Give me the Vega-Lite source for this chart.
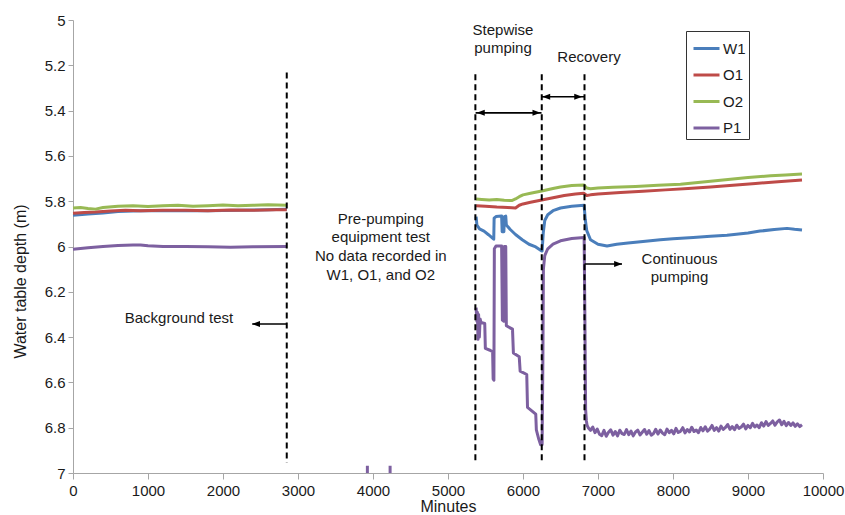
{
  "$schema": "https://vega.github.io/schema/vega-lite/v6.json",
  "width": 750,
  "height": 453,
  "autosize": {"type": "none"},
  "padding": {"left": 73, "top": 20, "right": 22, "bottom": 42},
  "background": "white",
  "config": {
    "font": "Liberation Sans",
    "view": {"stroke": null},
    "axis": {
      "grid": false,
      "domainColor": "#a6a6a6",
      "tickColor": "#a6a6a6",
      "labelFont": "Liberation Sans",
      "titleFont": "Liberation Sans",
      "labelFontSize": 15,
      "titleFontSize": 16,
      "titleFontWeight": "normal",
      "labelColor": "#1a1a1a",
      "titleColor": "#1a1a1a"
    }
  },
  "datasets": {
    "series": [
      {"well": "W1", "period": "bg", "minutes": 0, "depth": 5.862},
      {"well": "W1", "period": "bg", "minutes": 200, "depth": 5.857},
      {"well": "W1", "period": "bg", "minutes": 400, "depth": 5.852},
      {"well": "W1", "period": "bg", "minutes": 600, "depth": 5.846},
      {"well": "W1", "period": "bg", "minutes": 800, "depth": 5.843},
      {"well": "W1", "period": "bg", "minutes": 1000, "depth": 5.842},
      {"well": "W1", "period": "bg", "minutes": 1400, "depth": 5.842},
      {"well": "W1", "period": "bg", "minutes": 1800, "depth": 5.842},
      {"well": "W1", "period": "bg", "minutes": 2200, "depth": 5.84},
      {"well": "W1", "period": "bg", "minutes": 2600, "depth": 5.838},
      {"well": "W1", "period": "bg", "minutes": 2850, "depth": 5.836},
      {"well": "W1", "period": "pump", "minutes": 5375, "depth": 5.868},
      {"well": "W1", "period": "pump", "minutes": 5385, "depth": 5.905},
      {"well": "W1", "period": "pump", "minutes": 5420, "depth": 5.922},
      {"well": "W1", "period": "pump", "minutes": 5480, "depth": 5.932},
      {"well": "W1", "period": "pump", "minutes": 5540, "depth": 5.948},
      {"well": "W1", "period": "pump", "minutes": 5590, "depth": 5.962},
      {"well": "W1", "period": "pump", "minutes": 5610, "depth": 5.968},
      {"well": "W1", "period": "pump", "minutes": 5615, "depth": 5.875},
      {"well": "W1", "period": "pump", "minutes": 5640, "depth": 5.868},
      {"well": "W1", "period": "pump", "minutes": 5715, "depth": 5.865},
      {"well": "W1", "period": "pump", "minutes": 5722, "depth": 5.935},
      {"well": "W1", "period": "pump", "minutes": 5745, "depth": 5.935},
      {"well": "W1", "period": "pump", "minutes": 5752, "depth": 5.868},
      {"well": "W1", "period": "pump", "minutes": 5770, "depth": 5.866},
      {"well": "W1", "period": "pump", "minutes": 5778, "depth": 5.905},
      {"well": "W1", "period": "pump", "minutes": 5830, "depth": 5.925},
      {"well": "W1", "period": "pump", "minutes": 5900, "depth": 5.947},
      {"well": "W1", "period": "pump", "minutes": 5990, "depth": 5.97},
      {"well": "W1", "period": "pump", "minutes": 6080, "depth": 5.99},
      {"well": "W1", "period": "pump", "minutes": 6170, "depth": 6.002},
      {"well": "W1", "period": "pump", "minutes": 6240, "depth": 6.018},
      {"well": "W1", "period": "pump", "minutes": 6255, "depth": 6.02},
      {"well": "W1", "period": "pump", "minutes": 6270, "depth": 5.94},
      {"well": "W1", "period": "pump", "minutes": 6290, "depth": 5.885},
      {"well": "W1", "period": "pump", "minutes": 6330, "depth": 5.86},
      {"well": "W1", "period": "pump", "minutes": 6400, "depth": 5.842},
      {"well": "W1", "period": "pump", "minutes": 6500, "depth": 5.83},
      {"well": "W1", "period": "pump", "minutes": 6650, "depth": 5.822},
      {"well": "W1", "period": "pump", "minutes": 6815, "depth": 5.818},
      {"well": "W1", "period": "pump", "minutes": 6830, "depth": 5.88},
      {"well": "W1", "period": "pump", "minutes": 6850, "depth": 5.93},
      {"well": "W1", "period": "pump", "minutes": 6900, "depth": 5.97},
      {"well": "W1", "period": "pump", "minutes": 7000, "depth": 5.99},
      {"well": "W1", "period": "pump", "minutes": 7120, "depth": 5.998},
      {"well": "W1", "period": "pump", "minutes": 7250, "depth": 5.99},
      {"well": "W1", "period": "pump", "minutes": 7400, "depth": 5.985},
      {"well": "W1", "period": "pump", "minutes": 7600, "depth": 5.978},
      {"well": "W1", "period": "pump", "minutes": 7830, "depth": 5.97},
      {"well": "W1", "period": "pump", "minutes": 8000, "depth": 5.966},
      {"well": "W1", "period": "pump", "minutes": 8270, "depth": 5.96},
      {"well": "W1", "period": "pump", "minutes": 8500, "depth": 5.955},
      {"well": "W1", "period": "pump", "minutes": 8720, "depth": 5.95},
      {"well": "W1", "period": "pump", "minutes": 9000, "depth": 5.94},
      {"well": "W1", "period": "pump", "minutes": 9160, "depth": 5.932},
      {"well": "W1", "period": "pump", "minutes": 9350, "depth": 5.925},
      {"well": "W1", "period": "pump", "minutes": 9520, "depth": 5.92},
      {"well": "W1", "period": "pump", "minutes": 9620, "depth": 5.924},
      {"well": "W1", "period": "pump", "minutes": 9720, "depth": 5.927},

      {"well": "O1", "period": "bg", "minutes": 0, "depth": 5.853},
      {"well": "O1", "period": "bg", "minutes": 150, "depth": 5.85},
      {"well": "O1", "period": "bg", "minutes": 300, "depth": 5.848},
      {"well": "O1", "period": "bg", "minutes": 500, "depth": 5.843},
      {"well": "O1", "period": "bg", "minutes": 700, "depth": 5.84},
      {"well": "O1", "period": "bg", "minutes": 900, "depth": 5.842},
      {"well": "O1", "period": "bg", "minutes": 1200, "depth": 5.84},
      {"well": "O1", "period": "bg", "minutes": 1500, "depth": 5.84},
      {"well": "O1", "period": "bg", "minutes": 1800, "depth": 5.842},
      {"well": "O1", "period": "bg", "minutes": 2100, "depth": 5.839},
      {"well": "O1", "period": "bg", "minutes": 2400, "depth": 5.84},
      {"well": "O1", "period": "bg", "minutes": 2700, "depth": 5.838},
      {"well": "O1", "period": "bg", "minutes": 2850, "depth": 5.838},
      {"well": "O1", "period": "pump", "minutes": 5375, "depth": 5.82},
      {"well": "O1", "period": "pump", "minutes": 5500, "depth": 5.822},
      {"well": "O1", "period": "pump", "minutes": 5650, "depth": 5.826},
      {"well": "O1", "period": "pump", "minutes": 5800, "depth": 5.828},
      {"well": "O1", "period": "pump", "minutes": 5900, "depth": 5.83},
      {"well": "O1", "period": "pump", "minutes": 5950, "depth": 5.818},
      {"well": "O1", "period": "pump", "minutes": 6000, "depth": 5.812},
      {"well": "O1", "period": "pump", "minutes": 6100, "depth": 5.805},
      {"well": "O1", "period": "pump", "minutes": 6250, "depth": 5.795},
      {"well": "O1", "period": "pump", "minutes": 6400, "depth": 5.785},
      {"well": "O1", "period": "pump", "minutes": 6550, "depth": 5.775},
      {"well": "O1", "period": "pump", "minutes": 6700, "depth": 5.768},
      {"well": "O1", "period": "pump", "minutes": 6810, "depth": 5.765},
      {"well": "O1", "period": "pump", "minutes": 6850, "depth": 5.775},
      {"well": "O1", "period": "pump", "minutes": 6900, "depth": 5.772},
      {"well": "O1", "period": "pump", "minutes": 7000, "depth": 5.768},
      {"well": "O1", "period": "pump", "minutes": 7300, "depth": 5.762},
      {"well": "O1", "period": "pump", "minutes": 7600, "depth": 5.756},
      {"well": "O1", "period": "pump", "minutes": 7900, "depth": 5.75},
      {"well": "O1", "period": "pump", "minutes": 8200, "depth": 5.744},
      {"well": "O1", "period": "pump", "minutes": 8500, "depth": 5.737},
      {"well": "O1", "period": "pump", "minutes": 8800, "depth": 5.73},
      {"well": "O1", "period": "pump", "minutes": 9100, "depth": 5.722},
      {"well": "O1", "period": "pump", "minutes": 9400, "depth": 5.714},
      {"well": "O1", "period": "pump", "minutes": 9720, "depth": 5.706},

      {"well": "O2", "period": "bg", "minutes": 0, "depth": 5.83},
      {"well": "O2", "period": "bg", "minutes": 100, "depth": 5.828},
      {"well": "O2", "period": "bg", "minutes": 200, "depth": 5.832},
      {"well": "O2", "period": "bg", "minutes": 300, "depth": 5.835},
      {"well": "O2", "period": "bg", "minutes": 400, "depth": 5.828},
      {"well": "O2", "period": "bg", "minutes": 600, "depth": 5.822},
      {"well": "O2", "period": "bg", "minutes": 800, "depth": 5.82},
      {"well": "O2", "period": "bg", "minutes": 1000, "depth": 5.823},
      {"well": "O2", "period": "bg", "minutes": 1200, "depth": 5.82},
      {"well": "O2", "period": "bg", "minutes": 1400, "depth": 5.818},
      {"well": "O2", "period": "bg", "minutes": 1600, "depth": 5.822},
      {"well": "O2", "period": "bg", "minutes": 1800, "depth": 5.82},
      {"well": "O2", "period": "bg", "minutes": 2000, "depth": 5.817},
      {"well": "O2", "period": "bg", "minutes": 2200, "depth": 5.82},
      {"well": "O2", "period": "bg", "minutes": 2400, "depth": 5.818},
      {"well": "O2", "period": "bg", "minutes": 2600, "depth": 5.816},
      {"well": "O2", "period": "bg", "minutes": 2850, "depth": 5.818},
      {"well": "O2", "period": "pump", "minutes": 5375, "depth": 5.79},
      {"well": "O2", "period": "pump", "minutes": 5450, "depth": 5.792},
      {"well": "O2", "period": "pump", "minutes": 5550, "depth": 5.795},
      {"well": "O2", "period": "pump", "minutes": 5650, "depth": 5.793},
      {"well": "O2", "period": "pump", "minutes": 5750, "depth": 5.796},
      {"well": "O2", "period": "pump", "minutes": 5850, "depth": 5.797},
      {"well": "O2", "period": "pump", "minutes": 5900, "depth": 5.79},
      {"well": "O2", "period": "pump", "minutes": 5950, "depth": 5.78},
      {"well": "O2", "period": "pump", "minutes": 6000, "depth": 5.772},
      {"well": "O2", "period": "pump", "minutes": 6100, "depth": 5.765},
      {"well": "O2", "period": "pump", "minutes": 6250, "depth": 5.755},
      {"well": "O2", "period": "pump", "minutes": 6400, "depth": 5.744},
      {"well": "O2", "period": "pump", "minutes": 6500, "depth": 5.737},
      {"well": "O2", "period": "pump", "minutes": 6650, "depth": 5.731},
      {"well": "O2", "period": "pump", "minutes": 6810, "depth": 5.728},
      {"well": "O2", "period": "pump", "minutes": 6850, "depth": 5.742},
      {"well": "O2", "period": "pump", "minutes": 6900, "depth": 5.745},
      {"well": "O2", "period": "pump", "minutes": 7000, "depth": 5.742},
      {"well": "O2", "period": "pump", "minutes": 7200, "depth": 5.738},
      {"well": "O2", "period": "pump", "minutes": 7500, "depth": 5.735},
      {"well": "O2", "period": "pump", "minutes": 7800, "depth": 5.73},
      {"well": "O2", "period": "pump", "minutes": 8100, "depth": 5.725},
      {"well": "O2", "period": "pump", "minutes": 8400, "depth": 5.715},
      {"well": "O2", "period": "pump", "minutes": 8700, "depth": 5.705},
      {"well": "O2", "period": "pump", "minutes": 9000, "depth": 5.695},
      {"well": "O2", "period": "pump", "minutes": 9300, "depth": 5.688},
      {"well": "O2", "period": "pump", "minutes": 9500, "depth": 5.684},
      {"well": "O2", "period": "pump", "minutes": 9720, "depth": 5.68},

      {"well": "P1", "period": "bg", "minutes": 0, "depth": 6.012},
      {"well": "P1", "period": "bg", "minutes": 200, "depth": 6.006},
      {"well": "P1", "period": "bg", "minutes": 400, "depth": 6.0},
      {"well": "P1", "period": "bg", "minutes": 600, "depth": 5.996},
      {"well": "P1", "period": "bg", "minutes": 800, "depth": 5.993},
      {"well": "P1", "period": "bg", "minutes": 900, "depth": 5.993},
      {"well": "P1", "period": "bg", "minutes": 1000, "depth": 5.997},
      {"well": "P1", "period": "bg", "minutes": 1200, "depth": 6.0},
      {"well": "P1", "period": "bg", "minutes": 1500, "depth": 6.0},
      {"well": "P1", "period": "bg", "minutes": 1800, "depth": 6.001},
      {"well": "P1", "period": "bg", "minutes": 2100, "depth": 6.003},
      {"well": "P1", "period": "bg", "minutes": 2400, "depth": 6.001},
      {"well": "P1", "period": "bg", "minutes": 2850, "depth": 6.0},
      {"well": "P1", "period": "pump", "minutes": 5375, "depth": 6.27},
      {"well": "P1", "period": "pump", "minutes": 5385, "depth": 6.33},
      {"well": "P1", "period": "pump", "minutes": 5392, "depth": 6.29},
      {"well": "P1", "period": "pump", "minutes": 5400, "depth": 6.41},
      {"well": "P1", "period": "pump", "minutes": 5408, "depth": 6.3},
      {"well": "P1", "period": "pump", "minutes": 5418, "depth": 6.4},
      {"well": "P1", "period": "pump", "minutes": 5428, "depth": 6.32},
      {"well": "P1", "period": "pump", "minutes": 5440, "depth": 6.335},
      {"well": "P1", "period": "pump", "minutes": 5490, "depth": 6.34},
      {"well": "P1", "period": "pump", "minutes": 5498, "depth": 6.45},
      {"well": "P1", "period": "pump", "minutes": 5560, "depth": 6.458},
      {"well": "P1", "period": "pump", "minutes": 5595, "depth": 6.465},
      {"well": "P1", "period": "pump", "minutes": 5602, "depth": 6.585},
      {"well": "P1", "period": "pump", "minutes": 5612, "depth": 6.59},
      {"well": "P1", "period": "pump", "minutes": 5618, "depth": 6.01},
      {"well": "P1", "period": "pump", "minutes": 5640, "depth": 5.998},
      {"well": "P1", "period": "pump", "minutes": 5715, "depth": 5.998},
      {"well": "P1", "period": "pump", "minutes": 5725, "depth": 6.325},
      {"well": "P1", "period": "pump", "minutes": 5745, "depth": 6.33},
      {"well": "P1", "period": "pump", "minutes": 5752, "depth": 6.0},
      {"well": "P1", "period": "pump", "minutes": 5770, "depth": 6.0},
      {"well": "P1", "period": "pump", "minutes": 5778, "depth": 6.35},
      {"well": "P1", "period": "pump", "minutes": 5860, "depth": 6.365},
      {"well": "P1", "period": "pump", "minutes": 5872, "depth": 6.47},
      {"well": "P1", "period": "pump", "minutes": 5950, "depth": 6.487},
      {"well": "P1", "period": "pump", "minutes": 5962, "depth": 6.55},
      {"well": "P1", "period": "pump", "minutes": 6050, "depth": 6.565},
      {"well": "P1", "period": "pump", "minutes": 6060, "depth": 6.71},
      {"well": "P1", "period": "pump", "minutes": 6170, "depth": 6.74},
      {"well": "P1", "period": "pump", "minutes": 6178, "depth": 6.81},
      {"well": "P1", "period": "pump", "minutes": 6210, "depth": 6.85},
      {"well": "P1", "period": "pump", "minutes": 6235, "depth": 6.875},
      {"well": "P1", "period": "pump", "minutes": 6255, "depth": 6.875},
      {"well": "P1", "period": "pump", "minutes": 6265, "depth": 6.5},
      {"well": "P1", "period": "pump", "minutes": 6272, "depth": 6.1},
      {"well": "P1", "period": "pump", "minutes": 6290, "depth": 6.04},
      {"well": "P1", "period": "pump", "minutes": 6330, "depth": 6.01},
      {"well": "P1", "period": "pump", "minutes": 6400, "depth": 5.99},
      {"well": "P1", "period": "pump", "minutes": 6500, "depth": 5.975},
      {"well": "P1", "period": "pump", "minutes": 6650, "depth": 5.965},
      {"well": "P1", "period": "pump", "minutes": 6815, "depth": 5.96},
      {"well": "P1", "period": "pump", "minutes": 6825, "depth": 6.3},
      {"well": "P1", "period": "pump", "minutes": 6835, "depth": 6.72},
      {"well": "P1", "period": "pump", "minutes": 6845, "depth": 6.77},
      {"well": "P1", "period": "pump", "minutes": 6855, "depth": 6.79},
      {"well": "P1", "period": "pump", "minutes": 6870, "depth": 6.8},
      {"well": "P1", "period": "pump", "minutes": 6900, "depth": 6.812},
      {"well": "P1", "period": "pump", "minutes": 6930, "depth": 6.797},
      {"well": "P1", "period": "pump", "minutes": 6960, "depth": 6.822},
      {"well": "P1", "period": "pump", "minutes": 6990, "depth": 6.806},
      {"well": "P1", "period": "pump", "minutes": 7020, "depth": 6.829},
      {"well": "P1", "period": "pump", "minutes": 7050, "depth": 6.835},
      {"well": "P1", "period": "pump", "minutes": 7080, "depth": 6.812},
      {"well": "P1", "period": "pump", "minutes": 7110, "depth": 6.838},
      {"well": "P1", "period": "pump", "minutes": 7140, "depth": 6.82},
      {"well": "P1", "period": "pump", "minutes": 7170, "depth": 6.809},
      {"well": "P1", "period": "pump", "minutes": 7200, "depth": 6.833},
      {"well": "P1", "period": "pump", "minutes": 7230, "depth": 6.817},
      {"well": "P1", "period": "pump", "minutes": 7260, "depth": 6.836},
      {"well": "P1", "period": "pump", "minutes": 7290, "depth": 6.811},
      {"well": "P1", "period": "pump", "minutes": 7320, "depth": 6.826},
      {"well": "P1", "period": "pump", "minutes": 7350, "depth": 6.83},
      {"well": "P1", "period": "pump", "minutes": 7380, "depth": 6.808},
      {"well": "P1", "period": "pump", "minutes": 7410, "depth": 6.831},
      {"well": "P1", "period": "pump", "minutes": 7440, "depth": 6.815},
      {"well": "P1", "period": "pump", "minutes": 7470, "depth": 6.836},
      {"well": "P1", "period": "pump", "minutes": 7500, "depth": 6.819},
      {"well": "P1", "period": "pump", "minutes": 7530, "depth": 6.811},
      {"well": "P1", "period": "pump", "minutes": 7560, "depth": 6.832},
      {"well": "P1", "period": "pump", "minutes": 7590, "depth": 6.82},
      {"well": "P1", "period": "pump", "minutes": 7620, "depth": 6.808},
      {"well": "P1", "period": "pump", "minutes": 7650, "depth": 6.829},
      {"well": "P1", "period": "pump", "minutes": 7680, "depth": 6.813},
      {"well": "P1", "period": "pump", "minutes": 7710, "depth": 6.833},
      {"well": "P1", "period": "pump", "minutes": 7740, "depth": 6.826},
      {"well": "P1", "period": "pump", "minutes": 7770, "depth": 6.807},
      {"well": "P1", "period": "pump", "minutes": 7800, "depth": 6.828},
      {"well": "P1", "period": "pump", "minutes": 7830, "depth": 6.81},
      {"well": "P1", "period": "pump", "minutes": 7860, "depth": 6.824},
      {"well": "P1", "period": "pump", "minutes": 7890, "depth": 6.831},
      {"well": "P1", "period": "pump", "minutes": 7920, "depth": 6.806},
      {"well": "P1", "period": "pump", "minutes": 7950, "depth": 6.822},
      {"well": "P1", "period": "pump", "minutes": 7980, "depth": 6.812},
      {"well": "P1", "period": "pump", "minutes": 8010, "depth": 6.827},
      {"well": "P1", "period": "pump", "minutes": 8040, "depth": 6.803},
      {"well": "P1", "period": "pump", "minutes": 8070, "depth": 6.821},
      {"well": "P1", "period": "pump", "minutes": 8100, "depth": 6.816},
      {"well": "P1", "period": "pump", "minutes": 8130, "depth": 6.8},
      {"well": "P1", "period": "pump", "minutes": 8160, "depth": 6.823},
      {"well": "P1", "period": "pump", "minutes": 8190, "depth": 6.808},
      {"well": "P1", "period": "pump", "minutes": 8220, "depth": 6.819},
      {"well": "P1", "period": "pump", "minutes": 8250, "depth": 6.798},
      {"well": "P1", "period": "pump", "minutes": 8280, "depth": 6.817},
      {"well": "P1", "period": "pump", "minutes": 8310, "depth": 6.81},
      {"well": "P1", "period": "pump", "minutes": 8340, "depth": 6.822},
      {"well": "P1", "period": "pump", "minutes": 8370, "depth": 6.799},
      {"well": "P1", "period": "pump", "minutes": 8400, "depth": 6.814},
      {"well": "P1", "period": "pump", "minutes": 8430, "depth": 6.796},
      {"well": "P1", "period": "pump", "minutes": 8460, "depth": 6.815},
      {"well": "P1", "period": "pump", "minutes": 8490, "depth": 6.806},
      {"well": "P1", "period": "pump", "minutes": 8520, "depth": 6.79},
      {"well": "P1", "period": "pump", "minutes": 8550, "depth": 6.812},
      {"well": "P1", "period": "pump", "minutes": 8580, "depth": 6.8},
      {"well": "P1", "period": "pump", "minutes": 8610, "depth": 6.815},
      {"well": "P1", "period": "pump", "minutes": 8640, "depth": 6.793},
      {"well": "P1", "period": "pump", "minutes": 8670, "depth": 6.808},
      {"well": "P1", "period": "pump", "minutes": 8700, "depth": 6.799},
      {"well": "P1", "period": "pump", "minutes": 8730, "depth": 6.786},
      {"well": "P1", "period": "pump", "minutes": 8760, "depth": 6.807},
      {"well": "P1", "period": "pump", "minutes": 8790, "depth": 6.795},
      {"well": "P1", "period": "pump", "minutes": 8820, "depth": 6.809},
      {"well": "P1", "period": "pump", "minutes": 8850, "depth": 6.789},
      {"well": "P1", "period": "pump", "minutes": 8880, "depth": 6.803},
      {"well": "P1", "period": "pump", "minutes": 8910, "depth": 6.797},
      {"well": "P1", "period": "pump", "minutes": 8940, "depth": 6.784},
      {"well": "P1", "period": "pump", "minutes": 8970, "depth": 6.805},
      {"well": "P1", "period": "pump", "minutes": 9000, "depth": 6.79},
      {"well": "P1", "period": "pump", "minutes": 9030, "depth": 6.8},
      {"well": "P1", "period": "pump", "minutes": 9060, "depth": 6.781},
      {"well": "P1", "period": "pump", "minutes": 9090, "depth": 6.797},
      {"well": "P1", "period": "pump", "minutes": 9120, "depth": 6.788},
      {"well": "P1", "period": "pump", "minutes": 9150, "depth": 6.8},
      {"well": "P1", "period": "pump", "minutes": 9180, "depth": 6.778},
      {"well": "P1", "period": "pump", "minutes": 9210, "depth": 6.793},
      {"well": "P1", "period": "pump", "minutes": 9240, "depth": 6.773},
      {"well": "P1", "period": "pump", "minutes": 9270, "depth": 6.79},
      {"well": "P1", "period": "pump", "minutes": 9300, "depth": 6.781},
      {"well": "P1", "period": "pump", "minutes": 9330, "depth": 6.77},
      {"well": "P1", "period": "pump", "minutes": 9360, "depth": 6.789},
      {"well": "P1", "period": "pump", "minutes": 9390, "depth": 6.774},
      {"well": "P1", "period": "pump", "minutes": 9420, "depth": 6.766},
      {"well": "P1", "period": "pump", "minutes": 9450, "depth": 6.787},
      {"well": "P1", "period": "pump", "minutes": 9480, "depth": 6.772},
      {"well": "P1", "period": "pump", "minutes": 9510, "depth": 6.791},
      {"well": "P1", "period": "pump", "minutes": 9540, "depth": 6.777},
      {"well": "P1", "period": "pump", "minutes": 9570, "depth": 6.79},
      {"well": "P1", "period": "pump", "minutes": 9600, "depth": 6.779},
      {"well": "P1", "period": "pump", "minutes": 9630, "depth": 6.794},
      {"well": "P1", "period": "pump", "minutes": 9660, "depth": 6.783},
      {"well": "P1", "period": "pump", "minutes": 9690, "depth": 6.795},
      {"well": "P1", "period": "pump", "minutes": 9720, "depth": 6.787}
    ],
    "p1marks": [
      {"well": "P1", "minutes": 3925, "depth": 6.968, "depth2": 7.0},
      {"well": "P1", "minutes": 4228, "depth": 6.968, "depth2": 7.0}
    ],
    "vlines": [
      {"minutes": 2850, "depth": 5.232, "depth2": 6.955},
      {"minutes": 5365, "depth": 5.24, "depth2": 6.955},
      {"minutes": 6250, "depth": 5.24, "depth2": 6.955},
      {"minutes": 6820, "depth": 5.24, "depth2": 6.955}
    ],
    "arrows": [
      {"name": "Background test", "minutes": 2390, "minutes2": 2850, "depth": 6.342},
      {"name": "Stepwise pumping", "minutes": 5368, "minutes2": 6247, "depth": 5.41},
      {"name": "Recovery", "minutes": 6253, "minutes2": 6817, "depth": 5.339},
      {"name": "Continuous pumping", "minutes": 6820, "minutes2": 7320, "depth": 6.077}
    ],
    "heads": [
      {"minutes": 2387, "depth": 6.342, "dir": "left"},
      {"minutes": 5383, "depth": 5.41, "dir": "left"},
      {"minutes": 6233, "depth": 5.41, "dir": "right"},
      {"minutes": 6256, "depth": 5.339, "dir": "left"},
      {"minutes": 6790, "depth": 5.339, "dir": "right"},
      {"minutes": 7322, "depth": 6.077, "dir": "right"}
    ],
    "labels": [
      {"text": "Stepwise", "minutes": 5733, "depth": 5.044},
      {"text": "pumping", "minutes": 5733, "depth": 5.124},
      {"text": "Recovery", "minutes": 6880, "depth": 5.162},
      {"text": "Pre-pumping", "minutes": 4104, "depth": 5.879},
      {"text": "equipment test", "minutes": 4104, "depth": 5.96},
      {"text": "No data recorded in", "minutes": 4104, "depth": 6.042},
      {"text": "W1, O1, and O2", "minutes": 4104, "depth": 6.124},
      {"text": "Background test", "minutes": 1413, "depth": 6.316},
      {"text": "Continuous", "minutes": 8087, "depth": 6.055},
      {"text": "pumping", "minutes": 8087, "depth": 6.135}
    ]
  },
  "layer": [
    {
      "data": {"name": "series"},
      "mark": {"type": "line", "strokeWidth": 3, "strokeJoin": "round"},
      "encoding": {
        "x": {
          "field": "minutes", "type": "quantitative",
          "scale": {"domain": [0, 10000], "nice": false, "zero": false},
          "axis": {
            "title": "Minutes",
            "values": [0, 1000, 2000, 3000, 4000, 5000, 6000, 7000, 8000, 9000, 10000],
            "format": "d",
            "tickSize": 6,
            "labelPadding": 4,
            "titleY": 41,
            "titleBaseline": "bottom",
            "labelFlush": false
          }
        },
        "y": {
          "field": "depth", "type": "quantitative",
          "scale": {"domain": [5, 7], "reverse": true, "nice": false, "zero": false},
          "axis": {
            "title": "Water table depth (m)",
            "values": [5, 5.2, 5.4, 5.6, 5.8, 6, 6.2, 6.4, 6.6, 6.8, 7],
            "format": "~g",
            "tickSize": 5,
            "labelPadding": 3,
            "titleX": -53,
            "titleY": 261,
            "titleAlign": "center",
            "titleBaseline": "middle",
            "titleAngle": 270
          }
        },
        "color": {
          "field": "well", "type": "nominal",
          "scale": {"domain": ["W1", "O1", "O2", "P1"], "range": ["#4A7EBB", "#BE4B48", "#98B954", "#7D60A0"]},
          "legend": {
            "title": null,
            "orient": "none",
            "legendX": 613,
            "legendY": 11,
            "symbolType": "stroke",
            "symbolStrokeWidth": 3,
            "symbolSize": 676,
            "symbolOffset": 3,
            "labelFontSize": 15,
            "labelFont": "Liberation Sans",
            "labelColor": "#1a1a1a",
            "labelOffset": 2,
            "padding": 3,
            "rowPadding": 3.5,
            "strokeColor": "#333333",
            "fillColor": "white"
          }
        },
        "detail": {"field": "period", "type": "nominal"}
      }
    },
    {
      "data": {"name": "p1marks"},
      "mark": {"type": "rule", "strokeWidth": 3, "color": "#7D60A0"},
      "encoding": {
        "x": {"field": "minutes", "type": "quantitative"},
        "y": {"field": "depth", "type": "quantitative"},
        "y2": {"field": "depth2"}
      }
    },
    {
      "data": {"name": "vlines"},
      "mark": {"type": "rule", "strokeWidth": 2, "color": "#000000", "strokeDash": [6, 4]},
      "encoding": {
        "x": {"field": "minutes", "type": "quantitative"},
        "y": {"field": "depth", "type": "quantitative"},
        "y2": {"field": "depth2"}
      }
    },
    {
      "data": {"name": "arrows"},
      "mark": {"type": "rule", "strokeWidth": 1.6, "color": "#000000"},
      "encoding": {
        "x": {"field": "minutes", "type": "quantitative"},
        "x2": {"field": "minutes2"},
        "y": {"field": "depth", "type": "quantitative"}
      }
    },
    {
      "data": {"name": "heads"},
      "mark": {"type": "point", "filled": true, "opacity": 1, "size": 64, "color": "#000000", "strokeWidth": 0},
      "encoding": {
        "x": {"field": "minutes", "type": "quantitative"},
        "y": {"field": "depth", "type": "quantitative"},
        "shape": {
          "field": "dir", "type": "nominal",
          "scale": {"domain": ["left", "right"], "range": ["M0,0L2,-0.75L2,0.75Z", "M0,0L-2,-0.75L-2,0.75Z"]},
          "legend": null
        }
      }
    },
    {
      "data": {"name": "labels"},
      "mark": {"type": "text", "fontSize": 15, "font": "Liberation Sans", "color": "#1a1a1a", "align": "center", "baseline": "middle"},
      "encoding": {
        "x": {"field": "minutes", "type": "quantitative"},
        "y": {"field": "depth", "type": "quantitative"},
        "text": {"field": "text", "type": "nominal"}
      }
    }
  ]
}
